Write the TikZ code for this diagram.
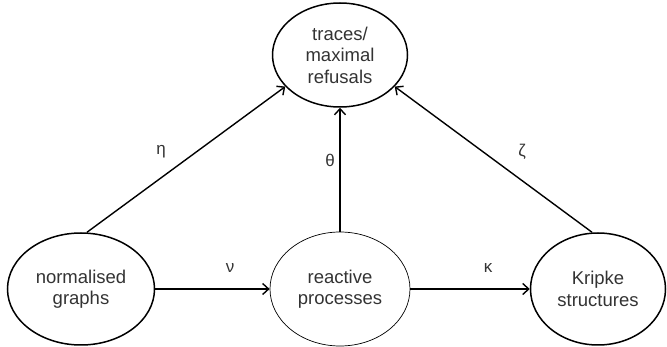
\documentclass[tikz,border=0pt]{standalone}
\usepackage{fontspec}
\setmainfont{Liberation Sans}
\usetikzlibrary{arrows.meta,shapes.geometric}
\begin{document}
\begin{tikzpicture}[x=1pt,y=-1pt,
  st/.style={ellipse,draw,line width=1.5pt,inner sep=0pt,align=center,font=\fontsize{18.5}{21.5}\selectfont,text=black!80},
  thinst/.style={st,line width=0.7pt},
  arr/.style={line width=1.4pt,-{Straight Barb[length=6pt,width=11pt,line width=1.4pt]}},
  lab/.style={font=\fontsize{17}{19}\selectfont,text=black!80}]
\useasboundingbox (0,0) rectangle (667,347);
\node[st,minimum width=135,minimum height=104] (t) at (340,55) {traces/\\maximal\\refusals};
\node[st,minimum width=147,minimum height=112] (n) at (81,289) {normalised\\graphs};
\node[thinst,minimum width=140,minimum height=114] (r) at (340,289) {reactive\\processes};
\node[st,minimum width=135,minimum height=112] (k) at (598,289) {Kripke\\structures};
\draw[arr] (n.east) -- (r.west);
\draw[arr] (r.east) -- (k.west);
\draw[arr] (r.north) -- (t.south);
\draw[arr] (n.north) ++(6,0) coordinate (n1) (n1) -- (t.210);
\draw[arr] (k.north) ++(-6,0) coordinate (k1) (k1) -- (t.330);
\node[lab] (nu) at (230,268) {ν};
\node[lab] (ka) at (488,268) {κ};
\node[lab] (et) at (161,152) {η};
\node[lab] (th) at (330,160) {θ};
\node[lab] (ze) at (522,152) {ζ};
\end{tikzpicture}
\end{document}
